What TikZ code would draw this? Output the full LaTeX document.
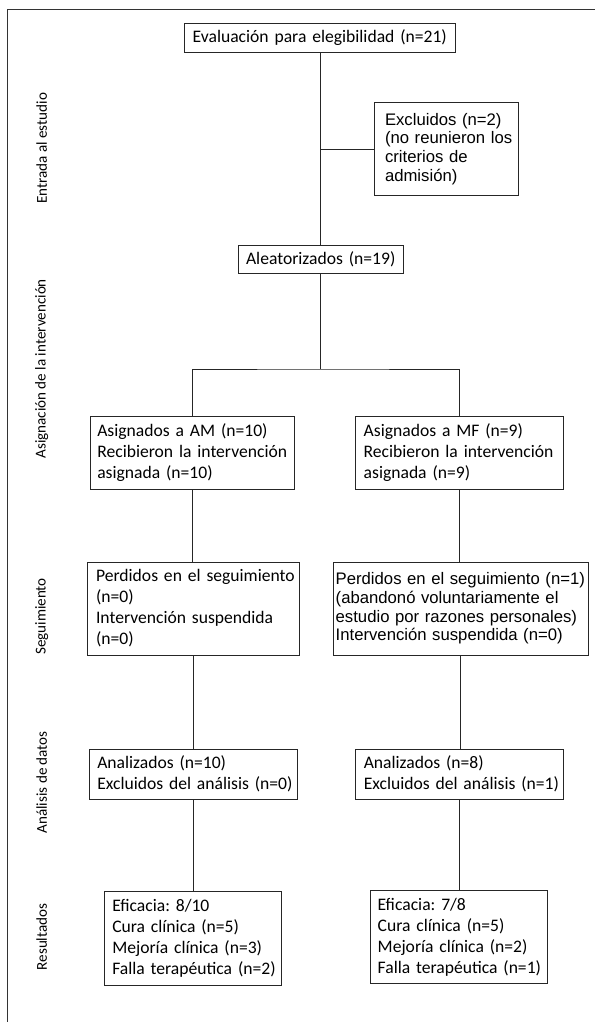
\documentclass[tikz,border=0pt]{standalone}
\usepackage{fontspec}
\setmainfont{Carlito}
\newfontfamily\arialf{Liberation Sans}
\newcommand\ml[1]{\mbox{#1}}
\frenchspacing
\begin{document}
\begin{tikzpicture}[x=1pt,y=-1pt,
  box/.style={draw=black!85, line width=0.9pt, rectangle, align=left, inner ysep=0pt,
    font=\fontsize{17.6}{21}\selectfont},
  abox/.style={box, font=\arialf\fontsize{16.7}{18.7}\selectfont},
  conn/.style={draw=black!85, line width=0.9pt},
  side/.style={rotate=90, inner sep=0pt, font=\fontsize{15.1}{18}\selectfont},
  frame/.style={draw=black!80, line width=1pt}
]
\useasboundingbox (0,0) rectangle (595,1022);
\coordinate (fb) at (7.3,1022);
\coordinate (ftl) at (7.3,10);
\coordinate (fr) at (595,10);
\draw[frame] (fb) -- (ftl) -- (fr);

% side labels
\node[side] (s1) at (41.7,148.3) {Entrada al estudio};
\node[side] (s2) at (41.7,368.8) {Asignación de la intervención};
\node[side] (s3) at (41.7,616.5) {Seguimiento};
\node[side] (s4) at (41.7,782.3) {Análisis de datos};
\node[side] (s5) at (41.7,937) {Resultados};

% boxes
\node[box, minimum width=271.4, minimum height=29, inner xsep=8.4, text width=254.6] (eval) at (320,37.8)
  {\ml{Evaluación para elegibilidad (n=21)}};
\node[abox, minimum width=144, minimum height=92.6, inner xsep=10.7, text width=122.6] (excl) at (446.3,149)
  {\ml{Excluidos (n=2)}\\\ml{(no reunieron los}\\\ml{criterios de}\\\ml{admisión)}};
\node[box, minimum width=165.3, minimum height=28.3, inner xsep=8, text width=149.3] (alea) at (320.7,259.2)
  {\ml{Aleatorizados (n=19)}};
\node[box, minimum width=204, minimum height=72.6, inner xsep=6.6, text width=190.8] (am) at (192.7,453)
  {\ml{Asignados a AM (n=10)}\\\ml{Recibieron la intervención}\\\ml{asignada (n=10)}};
\node[box, minimum width=208, minimum height=72.6, inner xsep=8, text width=192] (mf) at (459.7,453)
  {\ml{Asignados a MF (n=9)}\\\ml{Recibieron la intervención}\\\ml{asignada (n=9)}};
\node[box, minimum width=211.7, minimum height=93, inner xsep=8.7, text width=194.3] (lostam) at (193.2,608.5)
  {\ml{Perdidos en el seguimiento}\\\ml{(n=0)}\\\ml{Intervención suspendida}\\\ml{(n=0)}};
\node[abox, minimum width=255, minimum height=93, inner xsep=2.4, text width=250.2] (lostmf) at (460.8,608.5)
  {\ml{Perdidos en el seguimiento (n=1)}\\\ml{(abandonó voluntariamente el}\\\ml{estudio por razones personales)}\\\ml{Intervención suspendida (n=0)}};
\node[box, minimum width=208.7, minimum height=50.3, inner xsep=8.3, text width=192.1] (anam) at (193.3,774.2)
  {\ml{Analizados (n=10)}\\\ml{Excluidos del análisis (n=0)}};
\node[box, minimum width=208.3, minimum height=50.3, inner xsep=8.7, text width=190.9] (anmf) at (459.2,774.2)
  {\ml{Analizados (n=8)}\\\ml{Excluidos del análisis (n=1)}};
\node[box, minimum width=177.4, minimum height=93.3, inner xsep=8, text width=161.4] (resam) at (193,938.3)
  {\ml{Eficacia: 8/10}\\\ml{Cura clínica (n=5)}\\\ml{Mejoría clínica (n=3)}\\\ml{Falla terapéutica (n=2)}};
\node[box, minimum width=177, minimum height=93.4, inner xsep=7.4, text width=162.2] (resmf) at (458.8,937)
  {\ml{Eficacia: 7/8}\\\ml{Cura clínica (n=5)}\\\ml{Mejoría clínica (n=2)}\\\ml{Falla terapéutica (n=1)}};

% connectors
\coordinate (lvl) at (0,369);
\coordinate (split) at (alea.south |- lvl);
\draw[conn] (eval.south) -- (eval.south |- alea.north);
\draw[conn] (eval.south |- excl.west) -- (excl.west);
\draw[conn] (alea.south) -- (split);
\draw[conn] (am.north) |- (split) -| (mf.north);
\draw[conn] (am.south) -- (am.south |- lostam.north);
\draw[conn] (lostam.south) -- (lostam.south |- anam.north);
\draw[conn] (anam.south) -- (anam.south |- resam.north);
\draw[conn] (mf.south) -- (mf.south |- lostmf.north);
\draw[conn] (lostmf.south) -- (lostmf.south |- anmf.north);
\draw[conn] (anmf.south) -- (anmf.south |- resmf.north);
\end{tikzpicture}
\end{document}
